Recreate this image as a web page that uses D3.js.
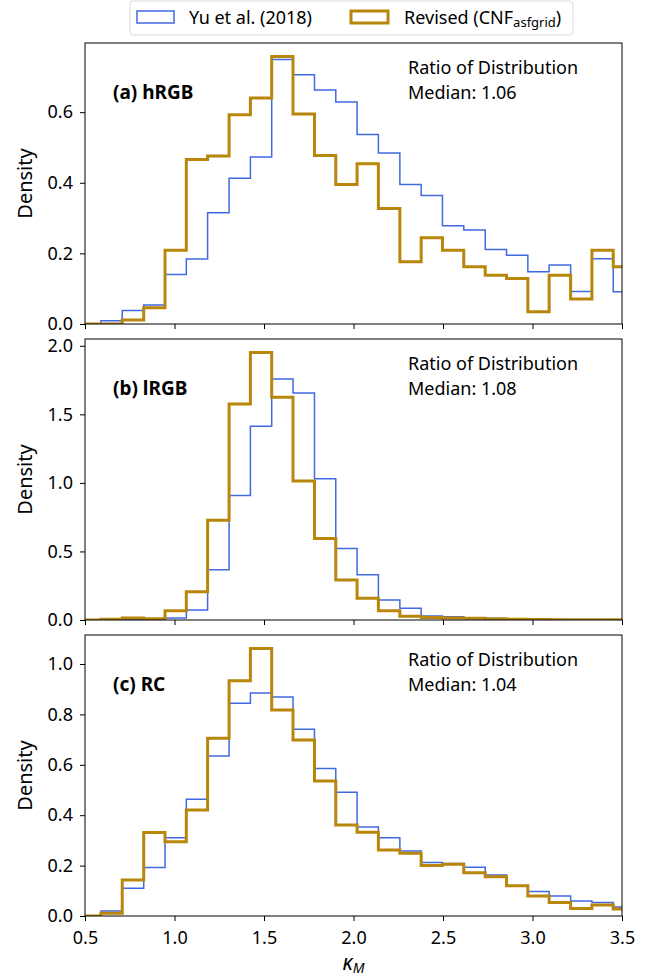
<!DOCTYPE html>
<html>
<head>
<meta charset="utf-8">
<script src="https://cdn.jsdelivr.net/npm/d3@7"></script>
<style>
  body { margin: 0; background: #fff; }
  svg text { font-family: "Noto Sans", sans-serif; fill: #000; }
</style>
</head>
<body>
<svg id="chart" width="665" height="980"></svg>
<script>
// histogram bin edges (shared by every panel)
const binEdges = [0.470, 0.589, 0.708, 0.828, 0.947, 1.066, 1.185, 1.305, 1.424,
  1.543, 1.662, 1.782, 1.901, 2.020, 2.139, 2.259, 2.378, 2.497, 2.616, 2.736,
  2.855, 2.974, 3.093, 3.213, 3.332, 3.451, 3.570];

// (a) hRGB
const hrgbYu = [0, 0.009, 0.038, 0.054, 0.140, 0.184, 0.315, 0.413, 0.473, 0.749,
  0.706, 0.663, 0.629, 0.537, 0.484, 0.395, 0.364, 0.278, 0.266, 0.211, 0.195,
  0.148, 0.167, 0.092, 0.185, 0.091];
const hrgbRev = [0, 0, 0.011, 0.046, 0.209, 0.466, 0.476, 0.593, 0.640, 0.758,
  0.595, 0.477, 0.395, 0.454, 0.327, 0.176, 0.244, 0.209, 0.162, 0.138, 0.129,
  0.035, 0.138, 0.071, 0.209, 0.162];

// (b) lRGB
const lrgbYu = [0, 0.002, 0.003, 0.003, 0.015, 0.073, 0.366, 0.909, 1.413, 1.758,
  1.656, 1.030, 0.521, 0.330, 0.145, 0.085, 0.030, 0.024, 0.017, 0.012, 0.007,
  0.004, 0.003, 0.002, 0.002, 0.002];
const lrgbRev = [0, 0.005, 0.015, 0.010, 0.068, 0.206, 0.727, 1.576, 1.952, 1.624,
  1.013, 0.594, 0.291, 0.158, 0.068, 0.027, 0.019, 0.015, 0.012, 0.007, 0.005,
  0.003, 0.002, 0.002, 0.002, 0.002];

// (c) RC
const rcYu = [0, 0.020, 0.110, 0.192, 0.311, 0.463, 0.635, 0.844, 0.885, 0.869,
  0.741, 0.585, 0.491, 0.353, 0.311, 0.258, 0.212, 0.208, 0.193, 0.163, 0.120,
  0.097, 0.079, 0.060, 0.054, 0.036];
const rcRev = [0, 0.011, 0.143, 0.331, 0.295, 0.421, 0.705, 0.934, 1.062, 0.817,
  0.698, 0.536, 0.361, 0.332, 0.262, 0.249, 0.200, 0.205, 0.172, 0.156, 0.120,
  0.079, 0.054, 0.030, 0.044, 0.028];

const panelLabels = ["(a) hRGB", "(b) lRGB", "(c) RC"];
const medians = ["1.06", "1.08", "1.04"];
const yTicks = [[0, 0.2, 0.4, 0.6], [0, 0.5, 1.0, 1.5, 2.0], [0, 0.2, 0.4, 0.6, 0.8, 1.0]];
const xTicks = [0.5, 1.0, 1.5, 2.0, 2.5, 3.0, 3.5];
const seriesNames = ["Yu et al. (2018)", "Revised (CNF", "asfgrid", ")"];

const panels = [
  {yu: hrgbYu, rev: hrgbRev},
  {yu: lrgbYu, rev: lrgbRev},
  {yu: rcYu, rev: rcRev}
];

const blue = "#4169e1", gold = "#b8860b";

const svg = d3.select("#chart");
const left = 85, right = 622, top0 = 43, panelH = 281, gap = 15;

const x = d3.scaleLinear().domain([0.5, 3.5]).range([left, right]);

// step outline of a histogram
function stepPoints(vals) {
  const pts = [[binEdges[0], 0]];
  vals.forEach((v, i) => {
    pts.push([binEdges[i], v]);
    pts.push([binEdges[i + 1], v]);
  });
  pts.push([binEdges[vals.length], 0]);
  return pts;
}

panels.forEach((p, k) => {
  const top = top0 + k * (panelH + gap);
  const bottom = top + panelH;
  const ymax = d3.max(p.yu.concat(p.rev)) * 1.05;
  const y = d3.scaleLinear().domain([0, ymax]).range([bottom, top]);

  const g = svg.append("g");

  g.append("clipPath").attr("id", "clip" + k)
    .append("rect")
    .attr("x", left).attr("y", top)
    .attr("width", right - left).attr("height", panelH);

  const line = d3.line().x(d => x(d[0])).y(d => y(d[1]));

  g.append("path")
    .attr("d", line(stepPoints(p.yu)))
    .attr("clip-path", "url(#clip" + k + ")")
    .attr("fill", "none")
    .attr("stroke", blue)
    .attr("stroke-width", 1.5);

  g.append("path")
    .attr("d", line(stepPoints(p.rev)))
    .attr("clip-path", "url(#clip" + k + ")")
    .attr("fill", "none")
    .attr("stroke", gold)
    .attr("stroke-width", 3);

  // axes
  const xAxis = d3.axisBottom(x).tickValues(xTicks).tickSize(5).tickPadding(10)
    .tickFormat(k === 2 ? d3.format(".1f") : "");
  const gx = g.append("g").attr("transform", `translate(0,${bottom})`).call(xAxis);

  const yAxis = d3.axisLeft(y).tickValues(yTicks[k]).tickSize(5).tickPadding(7)
    .tickFormat(d3.format(".1f"));
  const gy = g.append("g").attr("transform", `translate(${left},0)`).call(yAxis);

  [gx, gy].forEach(a => {
    a.select(".domain").remove();
    a.selectAll("text").style("font-size", "18px").attr("fill", "#000");
    a.selectAll("line").attr("stroke", "#000");
  });

  g.append("rect")
    .attr("x", left).attr("y", top)
    .attr("width", right - left).attr("height", panelH)
    .attr("fill", "none").attr("stroke", "#000").attr("stroke-width", 1);

  g.append("text")
    .attr("transform", `translate(32,${(top + bottom) / 2}) rotate(-90)`)
    .attr("text-anchor", "middle")
    .style("font-size", "20px")
    .text("Density");

  g.append("text")
    .attr("x", 113).attr("y", top + 56)
    .style("font-size", "19px").style("font-weight", "bold")
    .text(panelLabels[k]);

  g.append("text")
    .attr("x", 408).attr("y", top + 31)
    .style("font-size", "18px")
    .text("Ratio of Distribution");
  g.append("text")
    .attr("x", 408).attr("y", top + 56)
    .style("font-size", "18px")
    .text("Median: " + medians[k]);
});

// x label
const xl = svg.append("text")
  .attr("x", x(2.0)).attr("y", 970)
  .attr("text-anchor", "middle")
  .style("font-size", "21px");
xl.append("tspan").style("font-style", "italic").text("κ");
xl.append("tspan").style("font-style", "italic").style("font-size", "14px")
  .attr("dy", 3).text("M");

// legend
const lg = svg.append("g");
lg.append("rect")
  .attr("x", 130).attr("y", 1).attr("width", 443).attr("height", 34)
  .attr("rx", 3).attr("fill", "#fff").attr("stroke", "#d9d9d9");
lg.append("rect")
  .attr("x", 137).attr("y", 11).attr("width", 37).attr("height", 12)
  .attr("fill", "none").attr("stroke", blue).attr("stroke-width", 1.5);
lg.append("text").attr("x", 189).attr("y", 24)
  .style("font-size", "18px").text(seriesNames[0]);
lg.append("rect")
  .attr("x", 351).attr("y", 11).attr("width", 37).attr("height", 12)
  .attr("fill", "none").attr("stroke", gold).attr("stroke-width", 3);
const lt = lg.append("text").attr("x", 404).attr("y", 24).style("font-size", "18px");
lt.append("tspan").text(seriesNames[1]);
lt.append("tspan").attr("dy", 3).style("font-size", "13px").text(seriesNames[2]);
lt.append("tspan").attr("dy", -3).text(seriesNames[3]);
</script>
</body>
</html>
